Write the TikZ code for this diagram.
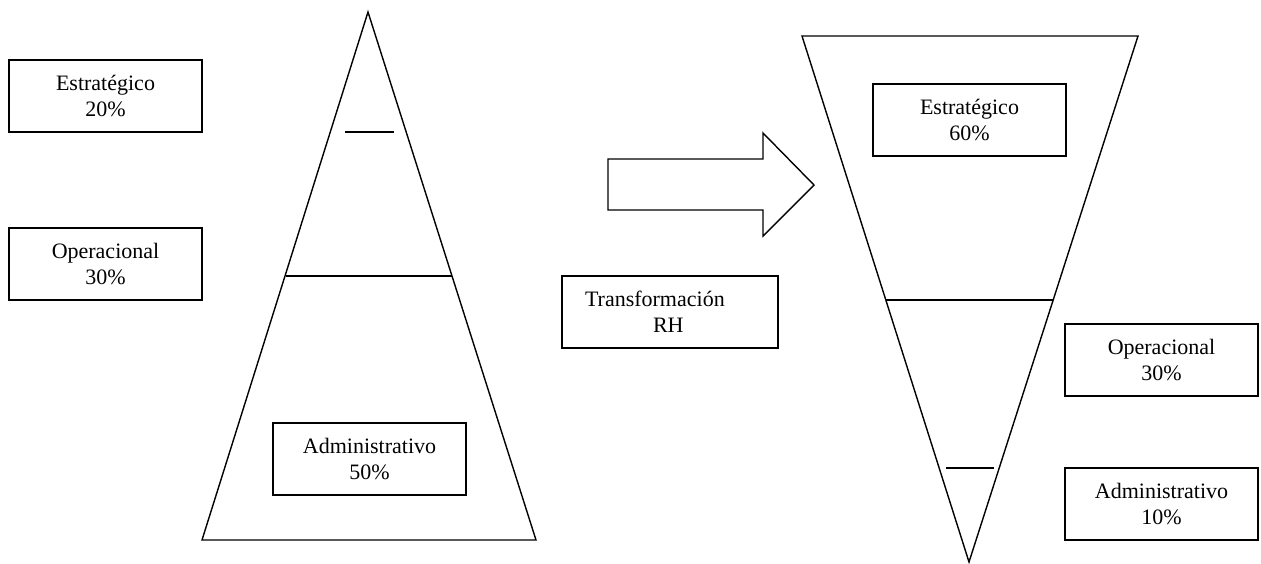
\documentclass[tikz,border=0pt]{standalone}
\usepackage{fontspec}
\setmainfont{Liberation Serif}
\begin{document}
\begin{tikzpicture}[x=1pt,y=-1pt,
  shape line/.style={line width=1.4pt, line join=miter},
  levelbox/.style={draw, line width=1.4pt, rectangle, minimum width=193pt,
    minimum height=72pt, inner sep=0pt, align=center,
    font=\fontsize{22}{26}\selectfont}]
\useasboundingbox (0,0) rectangle (1261,563);

% left pyramid
\draw[shape line] (368,12) -- (536,540) -- (202,540) -- cycle;
\draw[shape line] (286,276) -- (452,276);
\draw[shape line] (345,132) -- (394,132);

% inverted pyramid
\draw[shape line] (802,36) -- (1138,36) -- (969,562) -- cycle;
\draw[shape line] (886,300) -- (1053,300);
\draw[shape line] (946,468) -- (994,468);

% block arrow
\draw[shape line] (608,159) -- (763,159) -- (763,133) -- (814,185)
  -- (763,236) -- (763,210) -- (608,210) -- cycle;

% level labels
\node[levelbox] (e20) at (105.5,96) {Estratégico\\20\%};
\node[levelbox] (o30) at (105.5,264) {Operacional\\30\%};
\node[levelbox] (a50) at (369.5,459) {Administrativo\\50\%};
\node[levelbox] (e60) at (969.5,120) {Estratégico\\60\%};
\node[levelbox] (o30r) at (1161.5,360) {Operacional\\30\%};
\node[levelbox] (a10) at (1161.5,504) {Administrativo\\10\%};
\node[levelbox, align=left, text width=170pt, inner xsep=23pt] (trh) at (670,312)
  {Transformación\\\hspace*{68pt}RH};
\end{tikzpicture}
\end{document}
